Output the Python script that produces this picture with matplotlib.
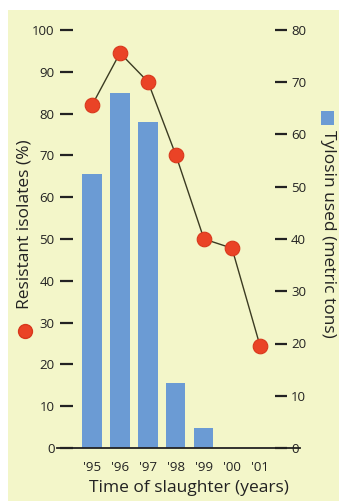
import matplotlib
matplotlib.use("Agg")
import matplotlib.pyplot as plt
from matplotlib.patches import Rectangle
from matplotlib.lines import Line2D

plt.rcParams['font.family'] = ['Open Sans', 'DejaVu Sans']

years = ["'95", "'96", "'97", "'98", "'99", "'00", "'01"]
tylosin_tons = [52.4, 68.0, 62.4, 12.4, 3.8, 0, 0]
resistant_pct = [82, 94.5, 87.6, 70, 50, 47.8, 24.5]
left_ticks = [0, 10, 20, 30, 40, 50, 60, 70, 80, 90, 100]
right_ticks = [0, 10, 20, 30, 40, 50, 60, 70, 80]

W, H = 339, 501
fig = plt.figure(figsize=(W / 100, H / 100), dpi=100)
fig.patch.set_facecolor('white')
bg = '#f3f6c9'
fig.add_artist(Rectangle((8 / W, 0), 1 - 8 / W, 1 - 10 / H, transform=fig.transFigure,
                         facecolor=bg, edgecolor='none', zorder=-10))

px = lambda x: x / W
py = lambda y: 1 - y / H

ax = fig.add_axes([px(57), py(448), px(300) - px(57), py(30) - py(448)])
ax.set_facecolor('none')
ax2 = ax.twinx()

x = list(range(len(years)))
ax.bar(x, tylosin_tons, width=0.68, color='#6b9bd4', zorder=2)
ax.set_ylim(0, 80)
ax.set_xlim(-1.25, 7.43)
ax.yaxis.tick_right()
ax.set_yticks(right_ticks)
ax.tick_params(axis='y', which='both', left=False, labelleft=False, right=True,
               labelright=True, direction='in', length=9, width=1.6, pad=3,
               labelsize=9.5, colors='#222222')
ax.spines['right'].set_position(('outward', -13 * 0.72))
ax.set_xticks(x)
ax.set_xticklabels(years)
ax.tick_params(axis='x', length=0, pad=9.5, labelsize=9.5, colors='#222222')
for s in ['top', 'left', 'right']:
    ax.spines[s].set_visible(False)
ax.spines['bottom'].set_linewidth(1.3)
ax.spines['bottom'].set_color('#222222')

ax2.set_ylim(0, 100)
ax2.plot(x, resistant_pct, color='#3b3b22', lw=1.0, marker='o', markersize=10.5,
         markerfacecolor='#ea4326', markeredgecolor='#d8381c', markeredgewidth=0.8,
         zorder=3)
ax2.set_yticks(left_ticks)
ax2.tick_params(axis='y', which='both', left=True, labelleft=True, right=False,
                labelright=False, direction='in', length=9.4, width=1.6, pad=4,
                labelsize=9.5, colors='#222222')
ax2.spines['left'].set_position(('outward', -3 * 0.72))
for s in ['top', 'left', 'right', 'bottom']:
    ax2.spines[s].set_visible(False)

fig.text(px(189), py(488), 'Time of slaughter (years)', ha='center', va='center',
         fontsize=12.5, color='#222222')

fig.text(px(25), py(224), 'Resistant isolates (%)', rotation=90, ha='center', va='center',
         fontsize=12.5, color='#222222')
fig.add_artist(Line2D([px(25)], [py(331)], marker='o', markersize=10,
                      markerfacecolor='#ea4326', markeredgecolor='#d8381c',
                      transform=fig.transFigure))
fig.text(px(328), py(234), 'Tylosin used (metric tons)', rotation=-90, ha='center', va='center',
         fontsize=12.5, color='#222222')
fig.add_artist(Rectangle((px(321), py(125)), 13 / W, 14 / H, transform=fig.transFigure,
                         facecolor='#6b9bd4', edgecolor='none'))

fig.savefig('out.png', dpi=100, facecolor='white')
